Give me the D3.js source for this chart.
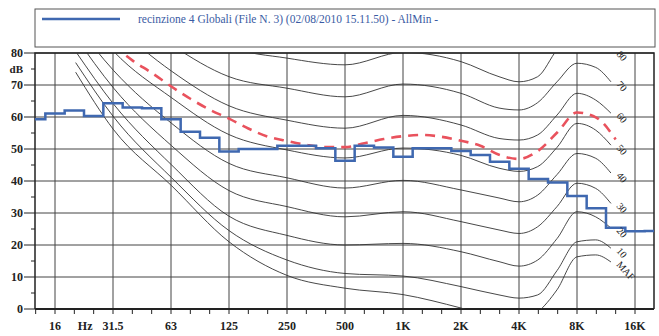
<!DOCTYPE html>
<html>
<head>
<meta charset="utf-8">
<title>Spettro 1/3 ottava</title>
<script src="https://cdn.jsdelivr.net/npm/d3@7"></script>
<style>
  body { margin: 0; background: #fff; }
  text { font-family: "Liberation Serif", "DejaVu Serif", serif; }
</style>
</head>
<body>
<script>

// measured spectrum, 1/3 octave bands (nominal Hz) and levels in dB
var bands = [12.5, 16, 20, 25, 31.5, 40, 50, 63, 80, 100, 125, 160, 200, 250, 315, 400, 500, 630,
  800, 1000, 1250, 1600, 2000, 2500, 3150, 4000, 5000, 6300, 8000, 10000, 12500, 16000, 20000];
var measured = [59.3, 61.1, 62.0, 60.3, 64.3, 63.0, 62.7, 59.3, 55.4, 53.5, 49.2, 50.0, 50.0, 51.0, 51.0, 50.2, 46.3, 51.0,
  50.5, 47.6, 50.2, 50.2, 49.4, 48.1, 46.0, 43.8, 40.6, 39.5, 35.3, 31.5, 25.4, 24.3, 24.4];

// red dashed reference curve
var limitBands = [31.5, 40, 50, 63, 80, 100, 125, 160, 200, 250, 315, 400, 500, 630, 800, 1000,
  1250, 1600, 2000, 2500, 3150, 4000, 5000, 6300, 8000, 10000, 12500];
var limit = [82.5, 77.7, 73.8, 69.6, 65.7, 62.3, 59.5, 56.4, 53.9, 52.5, 51.3, 50.6, 50.6, 51.8, 53.1, 54.0,
  54.4, 53.8, 52.6, 51.0, 48.1, 46.9, 49.5, 55.3, 61.4, 59.8, 53.0];

// equal loudness contours
var phonFreqs = [20, 31.5, 63, 125, 250, 500, 1000, 2000, 3150, 4000, 5000, 6300, 8000, 10000, 12000];
var phon80 = [112, 104, 93, 82, 78.4, 76.3, 80.2, 77.3, 72.6, 71, 72.6, 81, 87, 85, 80.5];
var phon70 = [106, 96, 82.5, 72.6, 69, 66.3, 70.3, 67.4, 62.8, 62.2, 64.5, 71, 76.8, 75.5, 71];
var phon60 = [100, 89, 74.3, 63.5, 59, 56.5, 60.5, 57.5, 53.3, 52.8, 54.4, 60.6, 67.4, 65.3, 61.2];
var phon50 = [95, 80.5, 66, 54.5, 49.7, 47.2, 50.3, 48, 44, 43, 44.5, 50.5, 58, 55.9, 51.2];
var phon40 = [89, 74.5, 58, 45.5, 41, 37.8, 40.2, 37.2, 34.7, 33.5, 35.6, 42, 48.6, 47.1, 42.5];
var phon30 = [85, 69, 51, 37, 32, 28.8, 30.4, 27.3, 24.7, 23.6, 25.7, 32, 39.3, 37.7, 33];
var phon20 = [80.5, 64, 45, 29, 23, 20, 20.5, 17.9, 14.8, 13.4, 15.3, 22, 30.4, 28.8, 25.3];
var phon10 = [77, 60, 41, 24.5, 15.3, 11.1, 10.3, 7, 4.4, 3.4, 4.4, 12, 21, 21.6, 19];
var maf = [74, 56, 38.5, 21, 10.5, 6.5, 4.5, 0.3, -3, -4, -1, 6, 16.3, 16.9, 14.7];
var contourNames = ["80", "70", "60", "50", "40", "30", "20", "10", "MAF"];
var contours = [phon80, phon70, phon60, phon50, phon40, phon30, phon20, phon10, maf];

// axes
var octaves = [16, 31.5, 63, 125, 250, 500, 1000, 2000, 4000, 8000, 16000];
var octaveLabels = ["16", "31.5", "63", "125", "250", "500", "1K", "2K", "4K", "8K", "16K"];
var dbTicks = [0, 10, 20, 30, 40, 50, 60, 70, 80];

var legendText = "recinzione 4 Globali (File N. 3) (02/08/2010 15.11.50) - AllMin -";

var width = 659, height = 336;
var plotLeft = 35, plotRight = 654, plotTop = 53, plotBottom = 309;
var blue = "#3f68b0", red = "#e9525d", ink = "#222";

// nominal band frequency -> exact base-2 frequency
var exact = f => 1000 * Math.pow(2, Math.round(3 * Math.log2(f / 1000)) / 3);

var x = d3.scaleLog().base(2)
  .domain([exact(16), exact(16000)])
  .range([55, 635]);

var y = d3.scaleLinear()
  .domain([0, 80])
  .range([plotBottom, plotTop]);

var svg = d3.select("body").append("svg")
  .attr("width", width)
  .attr("height", height);

svg.append("defs").append("clipPath")
  .attr("id", "plot")
  .append("rect")
  .attr("x", plotLeft).attr("y", plotTop)
  .attr("width", plotRight - plotLeft).attr("height", plotBottom - plotTop);

// legend
var legend = svg.append("g");
legend.append("rect")
  .attr("x", plotLeft).attr("y", 9)
  .attr("width", plotRight + 1 - plotLeft).attr("height", 38)
  .attr("fill", "none").attr("stroke", "#555").attr("stroke-width", 1);
legend.append("line")
  .attr("x1", 42).attr("x2", 120).attr("y1", 19).attr("y2", 19)
  .attr("stroke", blue).attr("stroke-width", 2.5);
legend.append("text")
  .attr("x", 138).attr("y", 23)
  .attr("fill", "#3a5ba3")
  .style("font-size", "11.5px")
  .text(legendText);

// grid
var grid = svg.append("g").attr("stroke", "#444").attr("stroke-width", 1);
grid.selectAll("line.h")
  .data(dbTicks)
  .enter().append("line")
  .attr("x1", plotLeft).attr("x2", plotRight)
  .attr("y1", d => y(d)).attr("y2", d => y(d));
grid.selectAll("line.v")
  .data(octaves)
  .enter().append("line")
  .attr("x1", d => x(exact(d))).attr("x2", d => x(exact(d)))
  .attr("y1", plotTop).attr("y2", plotBottom);

// frame
svg.append("path")
  .attr("d", `M${plotLeft},${plotBottom}V${plotTop}H${plotRight}V${plotBottom}`)
  .attr("fill", "none").attr("stroke", ink).attr("stroke-width", 1.5);
svg.append("line")
  .attr("x1", plotLeft).attr("x2", plotRight)
  .attr("y1", plotBottom).attr("y2", plotBottom)
  .attr("stroke", ink).attr("stroke-width", 2);

var plot = svg.append("g").attr("clip-path", "url(#plot)");

// contours
var contourLine = d3.line()
  .x((d, i) => x(phonFreqs[i]))
  .y(d => y(d))
  .curve(d3.curveMonotoneX);

plot.append("g")
  .selectAll("path")
  .data(contours)
  .enter().append("path")
  .attr("d", d => contourLine(d))
  .attr("fill", "none")
  .attr("stroke", "#333")
  .attr("stroke-width", 0.9);

svg.append("g")
  .selectAll("text")
  .data(contours)
  .enter().append("text")
  .attr("transform", d => {
    var n = d.length - 1;
    return `translate(${x(phonFreqs[n]) + 5},${y(d[n]) + 3}) rotate(48)`;
  })
  .attr("fill", ink)
  .style("font-size", "10px")
  .text((d, i) => contourNames[i]);

// red reference curve
var limitLine = d3.line()
  .x((d, i) => x(exact(limitBands[i])))
  .y(d => y(d))
  .curve(d3.curveMonotoneX);

plot.append("path")
  .attr("d", limitLine(limit))
  .attr("fill", "none")
  .attr("stroke", red)
  .attr("stroke-width", 2.6)
  .attr("stroke-dasharray", "10,7");

// measured steps
var steps = bands.map((f, i) => [exact(f) * Math.pow(2, -1 / 6), measured[i]]);
steps.push([exact(bands[bands.length - 1]) * Math.pow(2, 1 / 6), measured[measured.length - 1]]);

var stepLine = d3.line()
  .x(d => x(d[0]))
  .y(d => y(d[1]))
  .curve(d3.curveStepAfter);

plot.append("path")
  .attr("d", stepLine(steps))
  .attr("fill", "none")
  .attr("stroke", blue)
  .attr("stroke-width", 2.5);

// y axis
var yAxis = svg.append("g").attr("fill", ink);
yAxis.selectAll("line.major")
  .data(dbTicks)
  .enter().append("line")
  .attr("x1", 24).attr("x2", plotLeft)
  .attr("y1", d => y(d)).attr("y2", d => y(d))
  .attr("stroke", ink);
yAxis.selectAll("line.minor")
  .data(dbTicks.slice(1).map(d => d - 5))
  .enter().append("line")
  .attr("x1", 31).attr("x2", plotLeft)
  .attr("y1", d => y(d)).attr("y2", d => y(d))
  .attr("stroke", ink);
yAxis.selectAll("text")
  .data(dbTicks)
  .enter().append("text")
  .attr("x", 23)
  .attr("y", d => y(d) + 4)
  .attr("text-anchor", "end")
  .style("font-size", "12px")
  .style("font-weight", "bold")
  .text(d => d);
yAxis.append("text")
  .attr("x", 23).attr("y", y(75) + 4)
  .attr("text-anchor", "end")
  .style("font-size", "11px")
  .style("font-weight", "bold")
  .text("dB");

// x axis
var thirds = d3.range(-1, 32).map(k => exact(16) * Math.pow(2, k / 3)).filter(f => x(f) > plotLeft && x(f) < plotRight);
var xAxis = svg.append("g").attr("fill", ink);
xAxis.selectAll("line")
  .data(thirds)
  .enter().append("line")
  .attr("x1", d => x(d)).attr("x2", d => x(d))
  .attr("y1", plotBottom).attr("y2", plotBottom + 5)
  .attr("stroke", ink);
xAxis.selectAll("text")
  .data(octaves)
  .enter().append("text")
  .attr("x", d => x(exact(d)))
  .attr("y", 330)
  .attr("text-anchor", "middle")
  .style("font-size", "12px")
  .style("font-weight", "bold")
  .text((d, i) => octaveLabels[i]);
xAxis.append("text")
  .attr("x", x(22.4))
  .attr("y", 330)
  .attr("text-anchor", "middle")
  .style("font-size", "12px")
  .style("font-weight", "bold")
  .text("Hz");

</script>
</body>
</html>
